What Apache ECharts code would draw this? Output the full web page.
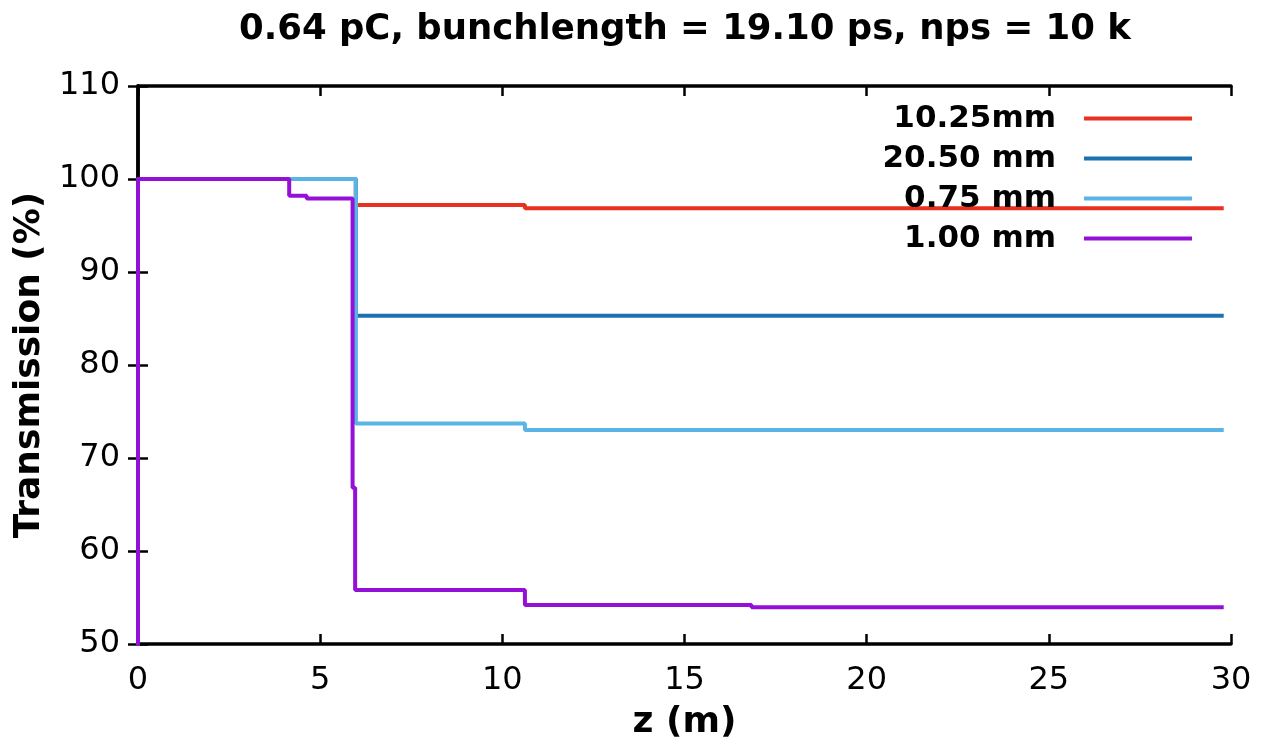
<!DOCTYPE html>
<html>
<head>
<meta charset="utf-8">
<title>Transmission vs z</title>
<script src="https://cdn.jsdelivr.net/npm/echarts@6/dist/echarts.min.js"></script>
<style>
  html, body { margin: 0; padding: 0; background: #ffffff; }
  #chart { width: 1263px; height: 746px; }
</style>
</head>
<body>
<div id="chart"></div>
<script>
// Beam transmission along the beamline for four aperture settings (step curves).
const titleText = '0.64 pC, bunchlength = 19.10 ps, nps = 10 k';
const seriesNames = ['10.25mm', '20.50 mm', '0.75 mm', '1.00 mm'];
const seriesColors = ['#e8321f', '#1a72b0', '#5ab4e6', '#9410d6'];

// z positions (m) and transmission (%) for each curve
const zRed = [0, 0, 5.98, 5.98, 10.62, 10.62, 29.8];
const tRed = [0, 100, 100, 97.2, 97.2, 96.85, 96.85];

const zDarkBlue = [0, 0, 5.98, 5.98, 29.8];
const tDarkBlue = [0, 100, 100, 85.3, 85.3];

const zLightBlue = [0, 0, 5.98, 5.98, 10.62, 10.62, 29.8];
const tLightBlue = [0, 100, 100, 73.7, 73.7, 73.0, 73.0];

const zPurple = [0, 0, 4.15, 4.15, 4.63, 4.63, 5.89, 5.89, 5.96, 5.96, 10.62, 10.62, 16.84, 16.84, 29.8];
const tPurple = [0, 100, 100, 98.2, 98.2, 97.9, 97.9, 66.8, 66.8, 55.8, 55.8, 54.2, 54.2, 53.95, 53.95];

const xTicks = [0, 5, 10, 15, 20, 25, 30];
const yTicks = [50, 60, 70, 80, 90, 100, 110];

const curves = [[zRed, tRed], [zDarkBlue, tDarkBlue], [zLightBlue, tLightBlue], [zPurple, tPurple]];

const tickFont = { fontFamily: 'DejaVu Sans', fontSize: 32, color: '#000' };
const boldFont = { fontFamily: 'DejaVu Sans', fontWeight: 'bold', fontSize: 36, color: '#000' };

const axisLine = { show: true, lineStyle: { color: '#000', width: 3.5 } };
const axisTick = { show: true, inside: true, length: 10, lineStyle: { color: '#000', width: 2.5 } };

const chart = echarts.init(document.getElementById('chart'), null, { renderer: 'canvas' });

// one legend block per curve so the sample lines stay right-aligned in a column
const legendRows = seriesNames.map((name, i) => ({
  show: true,
  right: 66,
  top: 98 + i * 40,
  orient: 'vertical',
  align: 'right',
  icon: 'rect',
  itemWidth: 108,
  itemHeight: 4,
  selectedMode: false,
  data: [name],
  textStyle: {
    fontFamily: 'DejaVu Sans', fontWeight: 'bold', fontSize: 31, color: '#000',
    padding: [0, 23, 0, 0]
  }
}));

chart.setOption({
  animation: false,
  backgroundColor: '#ffffff',
  title: {
    text: titleText,
    left: 234,
    top: 7,
    textStyle: { fontFamily: 'DejaVu Sans', fontWeight: 'bold', fontSize: 35.5, color: '#000' }
  },
  legend: legendRows,
  grid: { left: 138, right: 32, top: 86, bottom: 101, containLabel: false },
  xAxis: [
    {
      type: 'value', min: xTicks[0], max: xTicks[xTicks.length - 1], interval: 5,
      name: 'z (m)', nameLocation: 'middle', nameGap: 61, nameTextStyle: boldFont,
      axisLine, axisTick,
      axisLabel: Object.assign({ margin: 21 }, tickFont),
      splitLine: { show: false }
    },
    {
      type: 'value', position: 'top', min: xTicks[0], max: xTicks[xTicks.length - 1], interval: 5,
      axisLine, axisTick, axisLabel: { show: false }, splitLine: { show: false }
    }
  ],
  yAxis: [
    {
      type: 'value', min: yTicks[0], max: yTicks[yTicks.length - 1], interval: 10,
      name: 'Transmission (%)', nameLocation: 'middle', nameGap: 86, nameTextStyle: boldFont,
      axisLine, axisTick,
      axisLabel: Object.assign({ margin: 18 }, tickFont),
      splitLine: { show: false }
    },
    {
      type: 'value', position: 'right', min: yTicks[0], max: yTicks[yTicks.length - 1], interval: 10,
      axisLine, axisTick, axisLabel: { show: false }, splitLine: { show: false }
    }
  ],
  series: curves.map(([zs, ts], i) => ({
    name: seriesNames[i],
    type: 'line',
    xAxisIndex: 0,
    yAxisIndex: 0,
    data: zs.map((z, k) => [z, ts[k]]),
    showSymbol: false,
    symbol: 'none',
    clip: true,
    color: seriesColors[i],
    lineStyle: { color: seriesColors[i], width: 4 },
    z: 2 + i
  }))
});
</script>
</body>
</html>
